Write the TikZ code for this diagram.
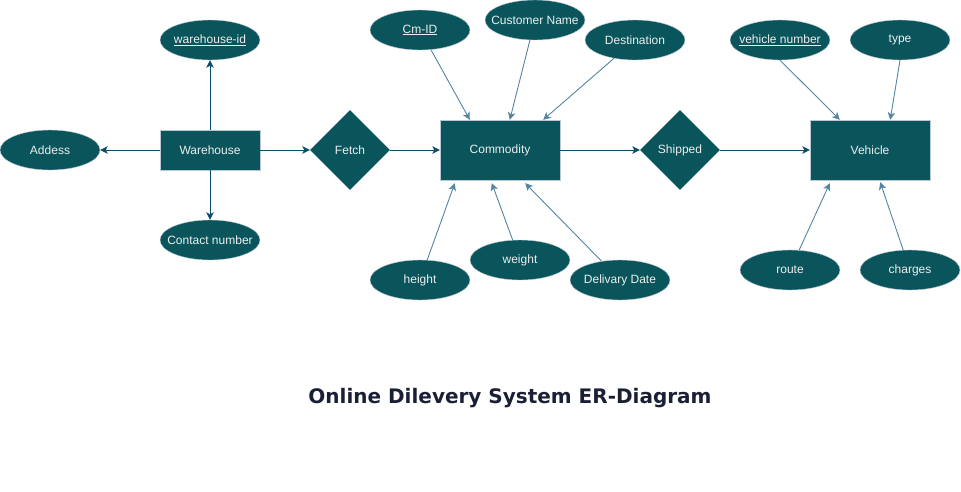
\documentclass[tikz,border=0pt]{standalone}
\usepackage{fontspec}
\setmainfont{Liberation Sans}
\newfontfamily\titlefont{DejaVu Sans}
\usetikzlibrary{arrows.meta, shapes.geometric}

\definecolor{erfill}{HTML}{09555B}
\definecolor{erline}{HTML}{BAC8D3}
\definecolor{eredge}{HTML}{0B4D6A}
\definecolor{erattr}{HTML}{5585A0}
\definecolor{ertext}{HTML}{EEEEEE}
\definecolor{ertitle}{HTML}{1A1F36}

\tikzset{
	entity/.style={rectangle, draw=erline, fill=erfill, text=ertext, inner sep=0pt,
		font=\fontsize{12}{14}\selectfont},
	attrib/.style={ellipse, draw=erline, fill=erfill, text=ertext, minimum width=100pt,
		minimum height=40pt, inner xsep=-20pt, inner ysep=0pt, font=\fontsize{12}{14}\selectfont},
	relation/.style={diamond, fill=erfill, text=ertext, minimum width=80pt, minimum height=80pt,
		inner sep=0pt, font=\fontsize{12}{14}\selectfont},
	link/.style={draw=eredge, line width=1pt, -{Stealth[length=7.5pt,width=7.5pt,inset=2pt]}},
	attrlink/.style={link, draw=erattr, line width=0.9pt},
}

\begin{document}
\begin{tikzpicture}[x=1pt, y=-1pt]
	
	\useasboundingbox (0,0) rectangle (961,491);
	
	% Warehouse and its attributes
	\node[entity, minimum width=100pt, minimum height=40pt] (warehouse) at (210,150) {Warehouse};
	\node[attrib] (whid) at (210,40) {\underline{warehouse-id}};
	\node[attrib] (addess) at (50,150) {Addess};
	\node[attrib] (contact) at (210,240) {Contact number};
	
	% Relations
	\node[relation] (fetch) at (350,150) {Fetch};
	\node[relation] (shipped) at (680,150) {Shipped};
	
	% Commodity and its attributes
	\node[entity, minimum width=120pt, minimum height=60pt] (commodity) at (500,150) {Commodity};
	\node[attrib] (cmid) at (420,30) {\underline{Cm-ID}};
	\node[attrib] (custname) at (535,20) {Customer Name};
	\node[attrib] (dest) at (635,40) {Destination};
	\node[attrib] (height) at (420,280) {height};
	\node[attrib] (weight) at (520,260) {weight};
	\node[attrib] (deldate) at (620,280) {Delivary Date};
	
	% Vehicle and its attributes
	\node[entity, minimum width=120pt, minimum height=60pt] (vehicle) at (870,150) {Vehicle};
	\node[attrib] (vnum) at (780,40) {\underline{vehicle number}};
	\node[attrib] (type) at (900,40) {type};
	\node[attrib] (route) at (790,270) {route};
	\node[attrib] (charges) at (910,270) {charges};
	
	% Main chain
	\draw[link] (warehouse) -- (whid);
	\draw[link] (warehouse) -- (addess);
	\draw[link] (warehouse) -- (contact);
	\draw[link] (warehouse) -- (fetch);
	\draw[link] (fetch) -- (commodity);
	\draw[link] (commodity) -- (shipped);
	\draw[link] (shipped) -- (vehicle);
	
	% Commodity attribute links
	\draw[attrlink] (cmid) -- ([xshift=30pt]commodity.north west);
	\draw[attrlink] (custname) -- ([xshift=70pt]commodity.north west);
	\draw[attrlink] (dest) -- ([xshift=-17pt]commodity.north east);
	\draw[attrlink] (height) -- ([xshift=15pt, yshift=-3pt]commodity.south west);
	\draw[attrlink] (weight) -- ([xshift=52pt, yshift=-3pt]commodity.south west);
	\draw[attrlink] (deldate) -- ([xshift=-35pt, yshift=-3pt]commodity.south east);
	
	% Vehicle attribute links
	\draw[attrlink] (vnum.south) -- ([xshift=30pt]vehicle.north west);
	\draw[attrlink] (type.south) -- ([xshift=-40pt]vehicle.north east);
	\draw[attrlink] (route) -- ([xshift=20pt, yshift=-3pt]vehicle.south west);
	\draw[attrlink] (charges) -- ([xshift=-50pt, yshift=-2pt]vehicle.south east);
	
	% Title
	\node[font=\titlefont\bfseries\fontsize{20}{24}\selectfont, text=ertitle] (title) at (510,398)
	{Online Dilevery System ER-Diagram};
	
\end{tikzpicture}
\end{document}
